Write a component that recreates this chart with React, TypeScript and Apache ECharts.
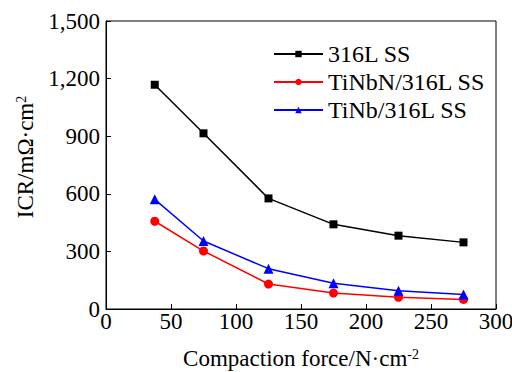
import React, { useEffect, useRef } from "react";
import * as echarts from "echarts";

const forces = [37.5, 75, 125, 175, 225, 275];
const ss316 = [1168, 915, 576, 441, 382, 347];
const tinbn = [457, 302, 130, 83, 61, 50];
const tinb = [571, 354, 210, 134, 95, 76];

const FONT = '"Liberation Serif", "Times New Roman", serif';

const pairs = (ys: number[]) => forces.map((x, i) => [x, ys[i]]);

export default function App() {
  const ref = useRef<HTMLDivElement>(null);
  useEffect(() => {
    if (!ref.current) return;
    const chart = echarts.init(ref.current, undefined, { renderer: "svg" });
    const mk = (name: string, data: number[], color: string, symbol: string, size: number) => ({
      name,
      type: "line",
      data: pairs(data),
      symbol,
      symbolSize: size,
      lineStyle: { color, width: 1.5 },
      itemStyle: { color },
      z: 3,
    });
    const sup = { fontFamily: FONT, fontSize: 14, color: "#000", verticalAlign: "top", padding: [0, 0, 9, 0] };
    chart.setOption({
      animation: false,
      backgroundColor: "#fff",
      textStyle: { fontFamily: FONT, color: "#000" },
      grid: {
        left: 106,
        top: 21,
        right: 16,
        bottom: 63,
        show: true,
        borderColor: "#000",
        borderWidth: 1,
        outerBoundsMode: "none",
        containLabel: false,
      },
      legend: {
        orient: "vertical",
        left: 268,
        top: 37,
        itemWidth: 49,
        itemHeight: 8,
        itemGap: 4,
        textStyle: { fontFamily: FONT, fontSize: 24, color: "#000" },
        data: ["316L SS", "TiNbN/316L SS", "TiNb/316L SS"],
      },
      xAxis: {
        type: "value",
        min: 0,
        max: 300,
        interval: 50,
        name: "Compaction force/N·cm{sup|-2}",
        nameLocation: "middle",
        nameGap: 38,
        nameTextStyle: { fontFamily: FONT, fontSize: 23, color: "#000", rich: { sup } },
        axisLine: { lineStyle: { color: "#000", width: 1 } },
        axisTick: { inside: true, length: 5, lineStyle: { color: "#000" } },
        axisLabel: { fontFamily: FONT, fontSize: 23, color: "#000", margin: 1 },
        splitLine: { show: false },
      },
      yAxis: {
        type: "value",
        min: 0,
        max: 1500,
        interval: 300,
        name: "ICR/mΩ·cm{sup|2}",
        nameLocation: "middle",
        nameGap: 66,
        nameTextStyle: { fontFamily: FONT, fontSize: 23, color: "#000", padding: [0, 0, 0, 16], rich: { sup } },
        axisLine: { lineStyle: { color: "#000", width: 1 } },
        axisTick: { inside: true, length: 5, lineStyle: { color: "#000" } },
        axisLabel: {
          fontFamily: FONT,
          fontSize: 23,
          color: "#000",
          margin: 6,
          formatter: (v: number) => v.toLocaleString("en-US"),
        },
        splitLine: { show: false },
      },
      series: [
        mk("316L SS", ss316, "#000000", "rect", 8),
        mk("TiNbN/316L SS", tinbn, "#ff0000", "circle", 9),
        mk("TiNb/316L SS", tinb, "#0000ff", "triangle", 10),
      ],
    });
    return () => chart.dispose();
  }, []);
  return <div ref={ref} style={{ width: 512, height: 372, position: "absolute", left: 0, top: 0 }} />;
}
